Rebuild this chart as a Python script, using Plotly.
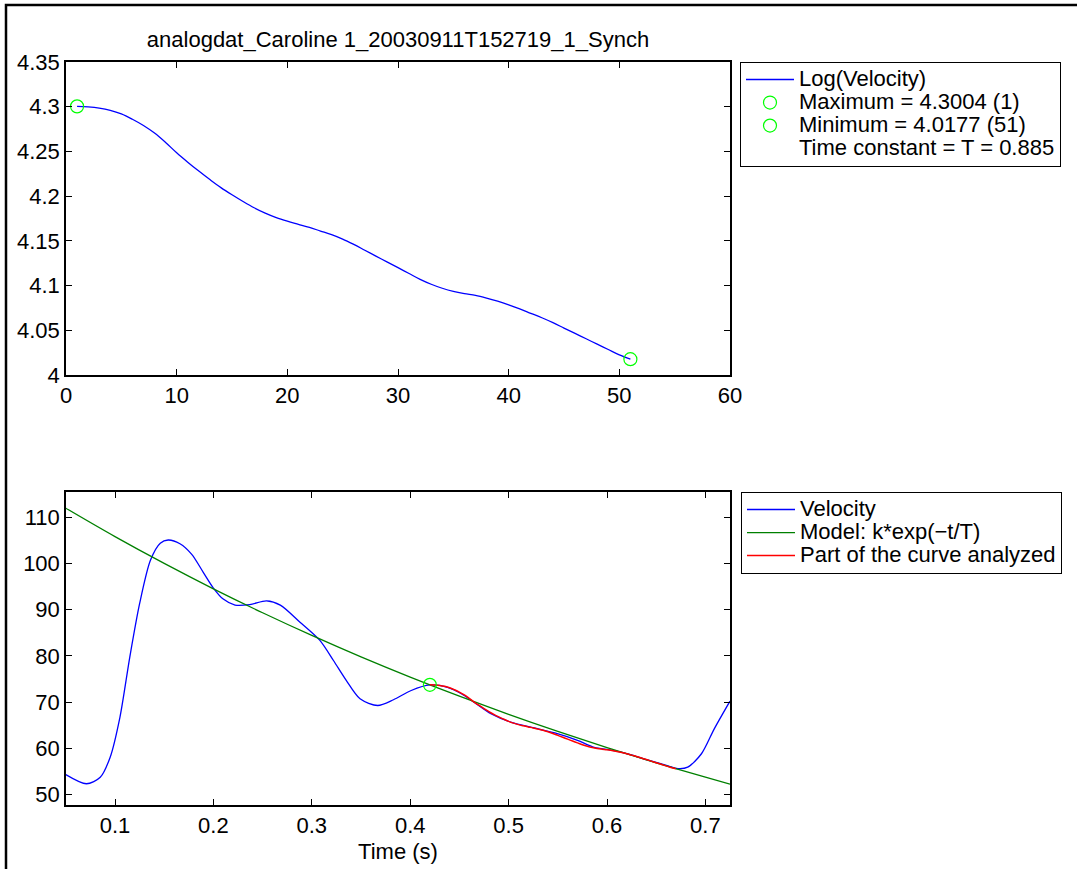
import numpy as np
import plotly.graph_objects as go

W, H = 1077, 869

# ---------------- data ----------------
title_text = "analogdat_Caroline 1_20030911T152719_1_Synch"

# top panel: log(velocity) on the analysed part, sample index 1..51
log_velocity = [
    4.3004, 4.2998, 4.2985, 4.2960, 4.2920, 4.2860, 4.2790, 4.2705, 4.2600, 4.2485,
    4.2380, 4.2280, 4.2185, 4.2095, 4.2015, 4.1940, 4.1870, 4.1810, 4.1760, 4.1720,
    4.1685, 4.1650, 4.1610, 4.1570, 4.1520, 4.1460, 4.1395, 4.1330, 4.1265, 4.1200,
    4.1135, 4.1070, 4.1015, 4.0970, 4.0935, 4.0910, 4.0890, 4.0860, 4.0825, 4.0785,
    4.0740, 4.0690, 4.0640, 4.0585, 4.0525, 4.0465, 4.0405, 4.0345, 4.0285, 4.0225,
    4.0177,
]
sample_index = list(range(1, len(log_velocity) + 1))
max_idx, max_val = 1, 4.3004
min_idx, min_val = 51, 4.0177

# bottom panel: velocity vs time
vel_t = [0.050, 0.071, 0.085, 0.095, 0.105, 0.115, 0.125, 0.136, 0.146, 0.154,
         0.166, 0.178, 0.190, 0.200, 0.210, 0.222, 0.237, 0.254, 0.268, 0.288,
         0.308, 0.322, 0.335, 0.349, 0.367, 0.383, 0.401, 0.420, 0.438, 0.452,
         0.466, 0.482, 0.503, 0.526, 0.547, 0.570, 0.587, 0.604, 0.621, 0.641,
         0.662, 0.672, 0.682, 0.696, 0.709, 0.725]
vel_v = [54.3, 52.3, 53.7, 58.0, 66.7, 79.7, 91.3, 100.7, 104.4, 105.1,
         104.3, 102.0, 98.0, 94.7, 92.3, 91.0, 91.1, 91.9, 91.0, 87.3,
         83.4, 79.0, 74.7, 70.7, 69.25, 70.5, 72.5, 73.7, 73.2, 71.8,
         69.8, 67.5, 65.6, 64.4, 63.3, 61.7, 60.2, 59.6, 58.8, 57.5,
         56.2, 55.6, 55.9, 58.8, 64.2, 70.2]

# model k*exp(-t/T)
model_t = [0.05, 0.10, 0.15, 0.20, 0.25, 0.30, 0.35, 0.40, 0.45, 0.50,
           0.55, 0.60, 0.65, 0.70, 0.725]
model_v = [111.99, 105.84, 100.03, 94.53, 89.34, 84.43, 79.79, 75.41, 71.27, 67.35,
           63.65, 60.15, 56.85, 53.73, 52.23]

# analysed part: starts at t0, one sample every dt
analysed_t0 = 0.42
analysed_dt = 0.005

top_xticks = [0, 10, 20, 30, 40, 50, 60]
top_yticks = [4, 4.05, 4.1, 4.15, 4.2, 4.25, 4.3, 4.35]
top_yticklabels = ["4", "4.05", "4.1", "4.15", "4.2", "4.25", "4.3", "4.35"]
bot_xticks = [0.1, 0.2, 0.3, 0.4, 0.5, 0.6, 0.7]
bot_yticks = [50, 60, 70, 80, 90, 100, 110]

legend_top = ["Log(Velocity)", "Maximum = 4.3004 (1)", "Minimum = 4.0177 (51)",
              "Time constant = T = 0.885"]
legend_bot = ["Velocity", "Model: k*exp(\u2212t/T)", "Part of the curve analyzed"]

# -------------- figure ---------------
red_t = [analysed_t0 + analysed_dt * (i - 1) for i in sample_index]
red_v = list(np.exp(np.array(log_velocity)))

BLUE, GREEN, RED, LIME = "#0000ff", "#008000", "#ff0000", "#00ff00"
FONT = "Liberation Sans, Arial, Helvetica, sans-serif"
FS = 22
LEG_FS = 15.4  # sets legend row spacing; entry text drawn at FS via span


def lg(name):
    return f'<span style="font-size:{FS}px">{name}</span>'


fig = go.Figure()

# top panel
fig.add_trace(go.Scatter(x=sample_index, y=log_velocity, mode="lines",
                         line=dict(color=BLUE, width=1.3, shape="spline"),
                         name=lg(legend_top[0]), xaxis="x", yaxis="y", legend="legend"))
fig.add_trace(go.Scatter(x=[max_idx], y=[max_val], mode="markers",
                         marker=dict(symbol="circle-open", size=13, color=LIME, line=dict(width=1.2)),
                         name=lg(legend_top[1]), xaxis="x", yaxis="y", legend="legend"))
fig.add_trace(go.Scatter(x=[min_idx], y=[min_val], mode="markers",
                         marker=dict(symbol="circle-open", size=13, color=LIME, line=dict(width=1.2)),
                         name=lg(legend_top[2]), xaxis="x", yaxis="y", legend="legend"))
fig.add_trace(go.Scatter(x=[None], y=[None], mode="lines",
                         line=dict(color="rgba(0,0,0,0)", width=0),
                         name=lg(legend_top[3]), xaxis="x", yaxis="y", legend="legend"))

# bottom panel
fig.add_trace(go.Scatter(x=vel_t, y=vel_v, mode="lines",
                         line=dict(color=BLUE, width=1.3, shape="spline", smoothing=0.8),
                         name=lg(legend_bot[0]), xaxis="x2", yaxis="y2", legend="legend2"))
fig.add_trace(go.Scatter(x=model_t, y=model_v, mode="lines",
                         line=dict(color=GREEN, width=1.3, shape="spline"),
                         name=lg(legend_bot[1]), xaxis="x2", yaxis="y2", legend="legend2"))
fig.add_trace(go.Scatter(x=red_t, y=red_v, mode="lines",
                         line=dict(color=RED, width=1.5, shape="spline"),
                         name=lg(legend_bot[2]), xaxis="x2", yaxis="y2", legend="legend2"))
fig.add_trace(go.Scatter(x=[analysed_t0], y=[float(np.exp(max_val))], mode="markers",
                         marker=dict(symbol="circle-open", size=13, color=LIME, line=dict(width=1.2)),
                         showlegend=False, xaxis="x2", yaxis="y2"))

ax = dict(showline=True, linecolor="black", linewidth=1.5, mirror="ticks",
          ticks="inside", ticklen=6, tickcolor="black", tickwidth=1,
          showgrid=False, zeroline=False,
          tickfont=dict(family=FONT, size=FS, color="black"))

L, R, T, B = 66, 730, 62, 805
plot_h = B - T


def ydom(y_top, y_bot):
    return [(B - y_bot) / plot_h, (B - y_top) / plot_h]


leg_common = dict(xref="container", yref="container", xanchor="left", yanchor="top",
                  bgcolor="white", bordercolor="black", borderwidth=1,
                  font=dict(family=FONT, size=LEG_FS, color="black"),
                  itemwidth=48, tracegroupgap=0)

fig.update_layout(
    width=W, height=H,
    margin=dict(l=L, r=W - R, t=T, b=H - B, autoexpand=False),
    paper_bgcolor="white", plot_bgcolor="white",
    font=dict(family=FONT, size=FS, color="black"),
    title=dict(text=title_text, x=398 / W, xanchor="center", xref="container",
               y=1 - 39 / H, yanchor="middle", yref="container",
               font=dict(family=FONT, size=FS, color="black")),
    xaxis=dict(ax, domain=[0, 1], range=[0, 60], tickvals=top_xticks, anchor="y"),
    yaxis=dict(ax, domain=ydom(62, 375), range=[4, 4.35], tickvals=top_yticks,
               ticktext=top_yticklabels, anchor="x"),
    xaxis2=dict(ax, domain=[0, 1], range=[0.0502, 0.725], tickvals=bot_xticks, anchor="y2",
                title=dict(text="Time (s)", standoff=6, font=dict(family=FONT, size=FS))),
    yaxis2=dict(ax, domain=ydom(492, 805), range=[47.7, 115.5], tickvals=bot_yticks, anchor="x2"),
    legend=dict(leg_common, x=740 / W, y=1 - 62 / H),
    legend2=dict(leg_common, x=741 / W, y=1 - 492 / H),
    showlegend=True,
)

# figure frame (MATLAB window edge): only left and top edges fall inside the picture
fig.add_shape(type="rect", xref="paper", yref="paper",
              x0=(6 - L) / (R - L), x1=(1300 - L) / (R - L),
              y0=(B - 1000) / plot_h, y1=(B - 5) / plot_h,
              line=dict(color="black", width=2.5), fillcolor="rgba(0,0,0,0)", layer="above")

fig.write_html("out.html")
